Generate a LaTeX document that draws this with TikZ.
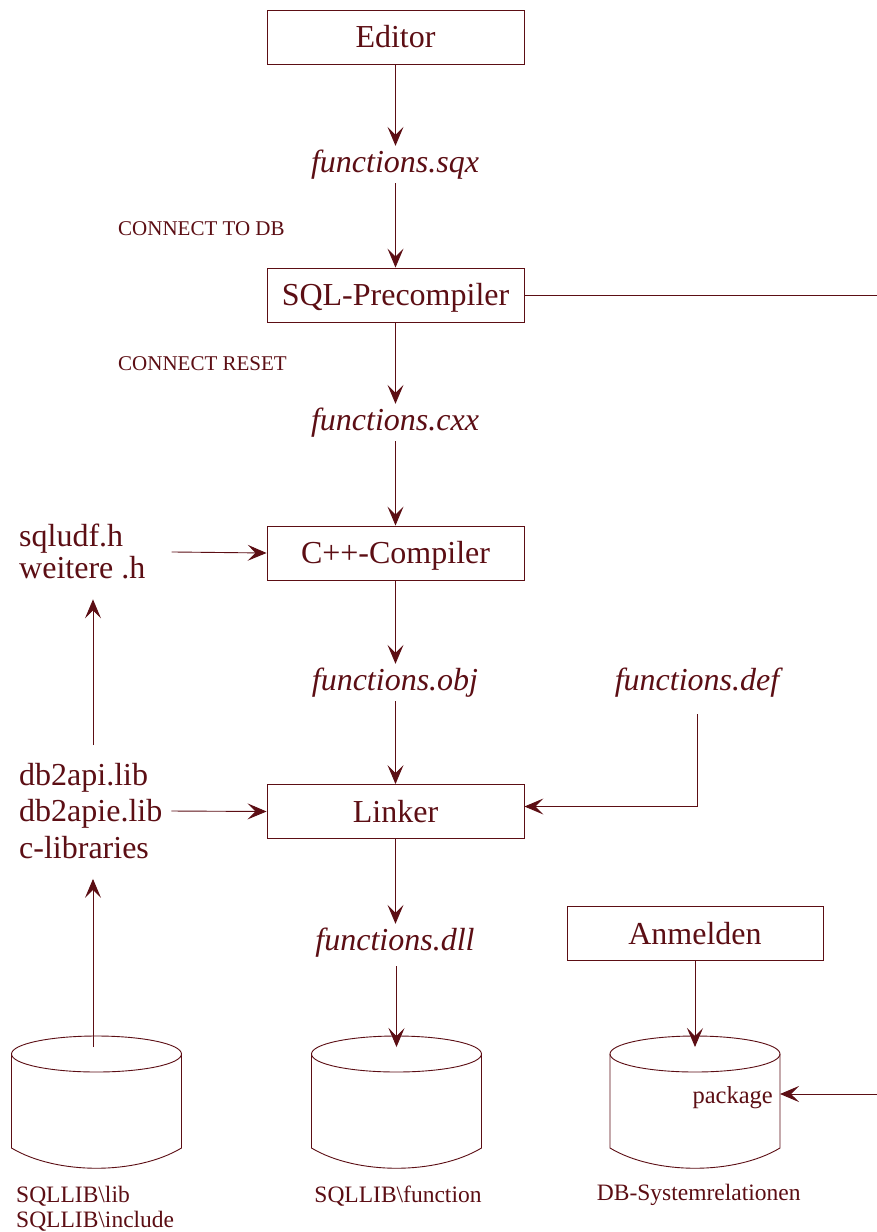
\documentclass[tikz,border=0pt]{standalone}
\usepackage{fontspec}
\setmainfont{Liberation Serif}
\usetikzlibrary{arrows.meta}
\definecolor{ink}{RGB}{92,14,20}
\begin{document}
\begin{tikzpicture}[x=1pt,y=-1pt,
  line/.style={draw=ink, line width=0.9pt},
  arr/.style={line, -{Stealth[length=19pt,width=16pt,inset=8pt]}},
  box/.style={line, rectangle, minimum width=257pt, minimum height=54pt, inner sep=0pt, text=ink, font=\fontsize{32}{38}\selectfont, text height=21pt, text depth=0pt},
  fn/.style={text=ink, font=\fontsize{32}{38}\selectfont\itshape, inner xsep=0pt, inner ysep=4pt, text height=22pt, text depth=7pt},
  lbl/.style={text=ink, inner sep=0pt, align=left},
  small/.style={text=ink, inner sep=0pt, font=\fontsize{21}{25}\selectfont},
  dblbl/.style={text=ink, inner sep=0pt, font=\fontsize{23.5}{25}\selectfont},
  cyl/.style={line}
]
\useasboundingbox (0,0) rectangle (877,1232);
\fill[white] (0,0) rectangle (877,1232);

% boxes
\node[box] (editor) at (395.5,37) {Editor};
\node[box] (pre) at (395.5,295) {SQL-Precompiler};
\node[box] (cpp) at (395.5,553) {C++-Compiler};
\node[box] (linker) at (395.5,811.5) {Linker};
\node[box, minimum width=256pt] (anm) at (695,933.5) {Anmelden};

% file labels
\node[fn, anchor=base] (sqx) at (395,172) {functions.sqx};
\node[fn, anchor=base] (cxx) at (395,430) {functions.cxx};
\node[fn, anchor=base] (obj) at (395,690) {functions.obj};
\node[fn, anchor=base] (def) at (697,690) {functions.def};
\node[fn, anchor=base] (dll) at (395,950) {functions.dll};

\node[small, anchor=base west] (ctd) at (118,235) {CONNECT TO DB};
\node[small, anchor=base west] (crs) at (118,370) {CONNECT RESET};

\node[lbl, anchor=north west, font=\fontsize{32}{32}\selectfont] (hdr) at (19,524) {sqludf.h\\weitere .h};
\node[lbl, anchor=north west, font=\fontsize{32}{36.5}\selectfont] (libs) at (19,763) {db2api.lib\\db2apie.lib\\c-libraries};

% cylinders
\foreach \cx in {96.5,396.5,695}{
  \draw[cyl] (\cx,1054) ellipse [x radius=85, y radius=18];
  \draw[cyl] (\cx-85,1054) -- (\cx-85,1148) .. controls (\cx-40,1175) and (\cx+40,1175) .. (\cx+85,1148) -- (\cx+85,1054);
}
\coordinate (cylLtop) at (93,1047);
\coordinate (cylMtop) at (396.5,1047);
\coordinate (cylRtop) at (695,1047);
\coordinate (pkgin) at (780,1094);
\coordinate (farR) at (900,0);

\node[text=ink, inner sep=0pt, anchor=base east, font=\fontsize{24.5}{26}\selectfont] (pkg) at (773,1103) {package};

\node[dblbl, anchor=north west, align=left] (lib1) at (16,1186) {SQLLIB\textbackslash lib\\SQLLIB\textbackslash include};
\node[dblbl, anchor=base] (lib2) at (398,1202) {SQLLIB\textbackslash function};
\node[dblbl, anchor=base] (lib3) at (698.7,1200) {DB-Systemrelationen};

% main column connectors
\draw[arr] (editor.south) -- (editor.south |- sqx.north);
\draw[arr] (sqx.south -| pre.north) -- (pre.north);
\draw[arr] (pre.south) -- (pre.south |- cxx.north);
\draw[arr] (cxx.south -| cpp.north) -- (cpp.north);
\draw[arr] (cpp.south) -- (cpp.south |- obj.north);
\draw[arr] (obj.south -| linker.north) -- (linker.north);
\draw[arr] (linker.south) -- (linker.south |- dll.north);
\draw[arr, shorten <=5pt] (dll.south -| cylMtop) -- (cylMtop);

% side connectors
\draw[arr, shorten <=26pt] (hdr.east) -- (cpp.west);
\draw[arr, shorten <=9pt] (libs.east) -- (linker.west);
\draw[arr, shorten <=13pt] (def.south) |- ([yshift=5pt]linker.east);
\draw[arr, shorten <=18pt, shorten >=20pt] (libs.north -| cylLtop) -- (hdr.south -| cylLtop);
\draw[arr, shorten >=20pt] (cylLtop) -- (libs.south -| cylLtop);
\draw[arr] (anm.south) -- (cylRtop);
\draw[arr] (pre.east) -- (pre.east -| farR) |- (pkgin);
\end{tikzpicture}
\end{document}
